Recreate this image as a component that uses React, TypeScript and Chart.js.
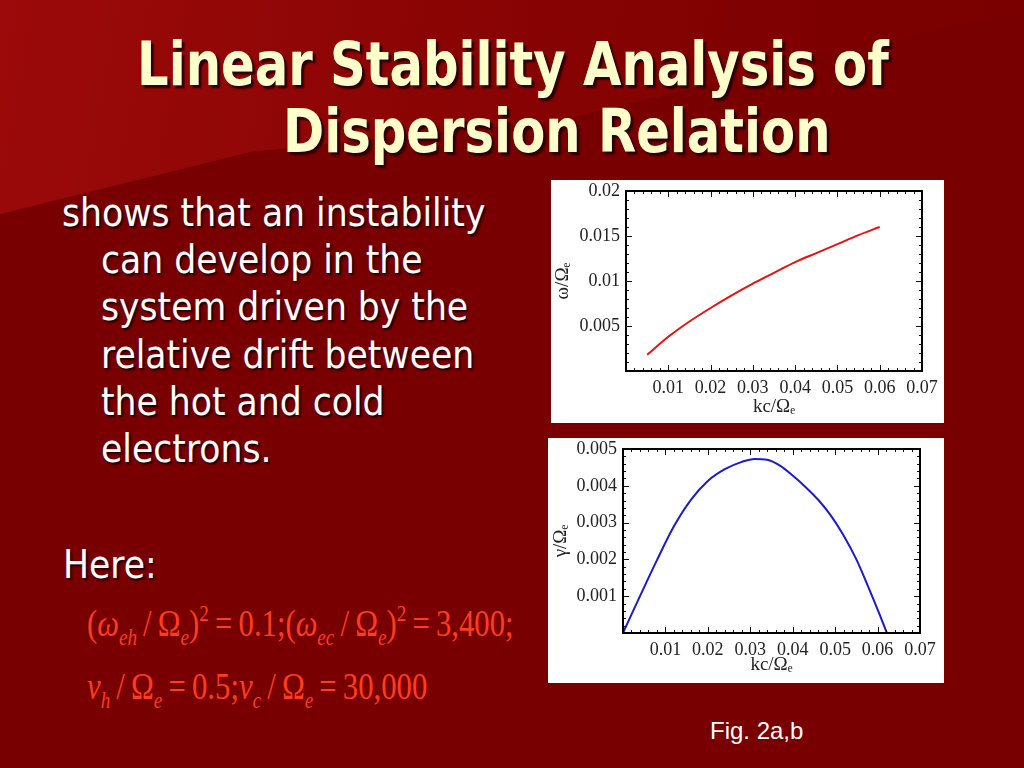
import React, { useEffect, useRef } from "react";
import { Chart, registerables } from "chart.js";

Chart.register(...registerables);

// ---- Data ----
const freqK = [0.005, 0.01, 0.015, 0.02, 0.025, 0.03, 0.035, 0.04, 0.045, 0.05, 0.055, 0.06];
const freqOmega = [0.0018, 0.0038, 0.0055, 0.007, 0.0084, 0.0097, 0.0109, 0.0121, 0.0131, 0.0141, 0.0151, 0.016];

const growthK = [0, 0.004, 0.008, 0.012, 0.016, 0.02, 0.024, 0.028, 0.031, 0.034, 0.037, 0.04, 0.043, 0.046, 0.049, 0.052, 0.055, 0.058, 0.0605, 0.0622];
const growthGamma = [0, 0.001, 0.00198, 0.0029, 0.00362, 0.00413, 0.00445, 0.00465, 0.00473, 0.00471, 0.00455, 0.00428, 0.00397, 0.00362, 0.00319, 0.00265, 0.002, 0.0012, 0.0005, 0];

const xTickValues = [0.01, 0.02, 0.03, 0.04, 0.05, 0.06, 0.07];
const freqYTicks = [0.005, 0.01, 0.015, 0.02];
const growthYTicks = [0.001, 0.002, 0.003, 0.004, 0.005];

const fmt = (v: number) => String(+v.toFixed(5));

const serifFamily = "'Liberation Serif', 'DejaVu Serif', serif";
const tickFont = { family: serifFamily, size: 18 };
const titleFont = { family: serifFamily, size: 19 };
const axisColor = "#222";

// Draws the Mathematica-style frame with inward major/minor ticks on all sides.
const framePlugin = {
  id: "frame",
  afterDatasetsDraw(chart: any, _args: any, opts: any) {
    const { ctx, chartArea: a, scales } = chart;
    const x = scales.x;
    const y = scales.y;
    ctx.save();
    ctx.strokeStyle = "#111";
    ctx.lineWidth = 1;
    const walk = (scale: any, minor: number, major: number, horiz: boolean) => {
      const n = Math.round((scale.max - scale.min) / minor);
      for (let i = 1; i < n; i++) {
        const v = scale.min + i * minor;
        const r = v / major;
        const isMajor = Math.abs(r - Math.round(r)) < 1e-6;
        const len = isMajor ? 6 : 3;
        const p = Math.round(scale.getPixelForValue(v)) + 0.5;
        ctx.beginPath();
        if (horiz) {
          ctx.moveTo(p, a.bottom);
          ctx.lineTo(p, a.bottom - len);
          ctx.moveTo(p, a.top);
          ctx.lineTo(p, a.top + len);
        } else {
          ctx.moveTo(a.left, p);
          ctx.lineTo(a.left + len, p);
          ctx.moveTo(a.right, p);
          ctx.lineTo(a.right - len, p);
        }
        ctx.stroke();
      }
    };
    walk(x, opts.xMinor, opts.xMajor, true);
    walk(y, opts.yMinor, opts.yMajor, false);
    ctx.lineWidth = 2;
    ctx.strokeStyle = "#000";
    ctx.strokeRect(a.left, a.top, a.right - a.left, a.bottom - a.top);
    ctx.restore();
  },
};

type PlotProps = {
  xs: number[];
  ys: number[];
  color: string;
  yMax: number;
  yTicks: number[];
  yTitle: string;
  yMinor: number;
  yMajor: number;
  width: number;
  height: number;
  padding: { left: number; top: number; right: number; bottom: number };
  xHeight: number;
  yWidth: number;
  xTitlePad: number;
  yTitlePad: number;
};

function Plot(p: PlotProps) {
  const ref = useRef<HTMLCanvasElement | null>(null);
  useEffect(() => {
    if (!ref.current) return;
    const chart = new Chart(ref.current, {
      type: "line",
      data: {
        datasets: [
          {
            data: p.xs.map((x, i) => ({ x, y: p.ys[i] })),
            borderColor: p.color,
            borderWidth: 2,
            pointRadius: 0,
            cubicInterpolationMode: "monotone",
            fill: false,
          },
        ],
      },
      options: {
        responsive: false,
        animation: false,
        layout: { padding: p.padding },
        plugins: {
          legend: { display: false },
          tooltip: { enabled: false },
          frame: { xMinor: 0.002, xMajor: 0.01, yMinor: p.yMinor, yMajor: p.yMajor },
        } as any,
        scales: {
          x: {
            type: "linear",
            min: 0,
            max: 0.07,
            grid: { display: false, drawTicks: false },
            border: { display: false },
            ticks: { font: tickFont, color: axisColor, padding: 6, maxRotation: 0, callback: (v: any) => fmt(+v) },
            afterBuildTicks: (s: any) => {
              s.ticks = xTickValues.map((v) => ({ value: v }));
            },
            afterFit: (s: any) => {
              s.height = p.xHeight;
            },
            title: {
              display: true,
              text: "kc/Ωₑ",
              font: titleFont,
              color: axisColor,
              padding: { top: 0, bottom: p.xTitlePad },
            },
          },
          y: {
            type: "linear",
            min: 0,
            max: p.yMax,
            grid: { display: false, drawTicks: false },
            border: { display: false },
            ticks: { font: tickFont, color: axisColor, padding: 6, callback: (v: any) => fmt(+v) },
            afterBuildTicks: (s: any) => {
              s.ticks = p.yTicks.map((v) => ({ value: v }));
            },
            afterFit: (s: any) => {
              s.width = p.yWidth;
            },
            title: {
              display: true,
              text: p.yTitle,
              font: titleFont,
              color: axisColor,
              padding: { top: p.yTitlePad, bottom: 0 },
            },
          },
        },
      },
      plugins: [framePlugin],
    });
    return () => chart.destroy();
  }, []);
  return <canvas ref={ref} width={p.width} height={p.height} style={{ width: p.width, height: p.height, display: "block" }} />;
}

const sans = "'DejaVu Sans Condensed', 'DejaVu Sans', 'Liberation Sans', sans-serif";

const bodyLines = [
  { text: "shows that an instability", left: 62, top: 192 },
  { text: "can develop in the", left: 101, top: 239 },
  { text: "system driven by the", left: 101, top: 286 },
  { text: "relative drift between", left: 101, top: 334 },
  { text: "the hot and cold", left: 101, top: 381 },
  { text: "electrons.", left: 101, top: 428 },
  { text: "Here:", left: 63, top: 544 },
];

const T = "\u2009";

const Sub = ({ children }: { children: React.ReactNode }) => (
  <span style={{ fontSize: 23, fontStyle: "italic", position: "relative", top: 9 }}>{children}</span>
);
const Sup = ({ children }: { children: React.ReactNode }) => (
  <span style={{ fontSize: 23, position: "relative", top: -15 }}>{children}</span>
);
const I = ({ children }: { children: React.ReactNode }) => <span style={{ fontStyle: "italic" }}>{children}</span>;

const titleStyle: React.CSSProperties = {
  position: "absolute",
  fontFamily: sans,
  fontWeight: "bold",
  fontSize: 60,
  lineHeight: "66px",
  color: "#ffffcc",
  textShadow: "3px 3px 2px #2a0000",
  whiteSpace: "nowrap",
  transformOrigin: "0 0",
  transform: "scaleX(0.92)",
};

const eqStyle: React.CSSProperties = {
  position: "absolute",
  left: 87,
  fontFamily: serifFamily,
  fontSize: 37,
  lineHeight: "40px",
  color: "#ff3c1c",
  whiteSpace: "nowrap",
  transformOrigin: "0 0",
  transform: "scaleX(0.83)",
};

export default function App() {
  return (
    <div
      style={{
        position: "fixed",
        left: 0,
        top: 0,
        width: 1024,
        height: 768,
        overflow: "hidden",
        background: "#780000",
      }}
    >
      <div
        style={{
          position: "absolute",
          inset: 0,
          background: "linear-gradient(100deg, #9c0a0a 0%, #8a0404 40%, #7c0000 75%, #780000 100%)",
          clipPath: "polygon(0 0, 1024px 0, 1024px 10px, 560px 120px, 250px 152px, 0 214px)",
        }}
      />
      {/* Title */}
      <div style={{ ...titleStyle, left: 137, top: 31 }}>Linear Stability Analysis of</div>
      <div style={{ ...titleStyle, left: 283, top: 98 }}>Dispersion Relation</div>
      {/* Body */}
      {bodyLines.map((l, i) => (
        <div
          key={i}
          style={{
            position: "absolute",
            left: l.left,
            top: l.top,
            fontFamily: sans,
            fontSize: 38.5,
            lineHeight: "42px",
            color: "#ffffff",
            textShadow: "2px 2px 2px #200000",
            whiteSpace: "nowrap",
          }}
        >
          {l.text}
        </div>
      ))}
      {/* Equations */}
      <div style={{ ...eqStyle, top: 604 }}>
        (<I>ω</I>
        <Sub>eh</Sub>
        {T}/{T}Ω<Sub>e</Sub>)<Sup>2</Sup>
        {T}={T}0.1;(<I>ω</I>
        <Sub>ec</Sub>
        {T}/{T}Ω<Sub>e</Sub>)<Sup>2</Sup>
        {T}={T}3,400;
      </div>
      <div style={{ ...eqStyle, top: 667 }}>
        <I>ν</I>
        <Sub>h</Sub>
        {T}/{T}Ω<Sub>e</Sub>
        {T}={T}0.5;<I>ν</I>
        <Sub>c</Sub>
        {T}/{T}Ω<Sub>e</Sub>
        {T}={T}30,000
      </div>
      {/* Figure boxes */}
      <div style={{ position: "absolute", left: 551, top: 180, width: 393, height: 243, background: "#fff" }} />
      <div style={{ position: "absolute", left: 548, top: 438, width: 396, height: 245, background: "#fff" }} />
      <div style={{ position: "absolute", left: 541, top: 170 }}>
        <Plot
          xs={freqK}
          ys={freqOmega}
          color="#e81010"
          yMax={0.02}
          yTicks={freqYTicks}
          yTitle="ω/Ωₑ"
          yMinor={0.001}
          yMajor={0.005}
          width={413}
          height={263}
          padding={{ left: 10, top: 21, right: 32, bottom: 10 }}
          xHeight={52}
          yWidth={75}
          xTitlePad={5}
          yTitlePad={1}
        />
      </div>
      <div style={{ position: "absolute", left: 538, top: 428 }}>
        <Plot
          xs={growthK}
          ys={growthGamma}
          color="#1a1ad0"
          yMax={0.005}
          yTicks={growthYTicks}
          yTitle="γ/Ωₑ"
          yMinor={0.0002}
          yMajor={0.001}
          width={416}
          height={265}
          padding={{ left: 10, top: 21, right: 34, bottom: 10 }}
          xHeight={50}
          yWidth={75}
          xTitlePad={7}
          yTitlePad={2}
        />
      </div>
      <div
        style={{
          position: "absolute",
          left: 710,
          top: 717,
          fontFamily: "'Liberation Sans', Arial, sans-serif",
          fontSize: 24,
          color: "#ffffff",
          whiteSpace: "nowrap",
        }}
      >
        Fig. 2a,b
      </div>
    </div>
  );
}
